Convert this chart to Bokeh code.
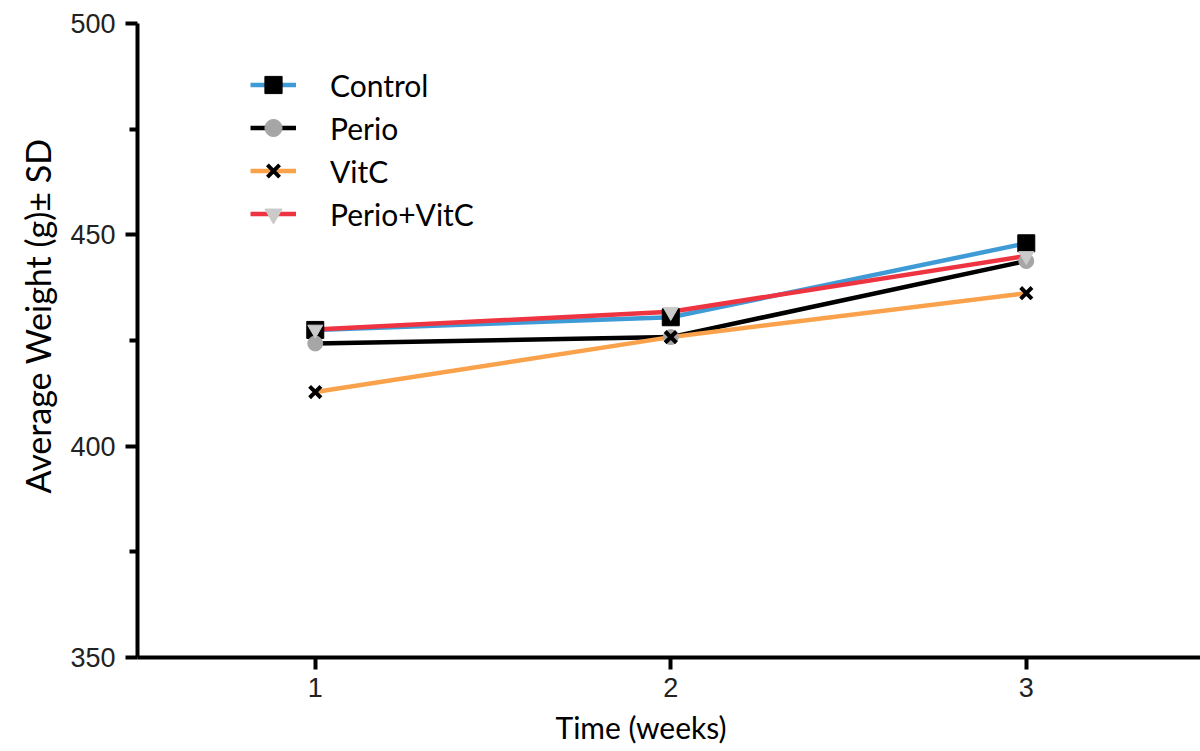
from bokeh.plotting import figure
from bokeh.models import Legend, LegendItem, Title, FixedTicker, Range1d
from bokeh.embed import file_html
from bokeh.resources import INLINE

weeks = [1, 2, 3]
control = [427.5, 430.5, 448.0]
perio = [424.3, 425.8, 443.8]
vitc = [412.8, 425.8, 436.2]
perio_vitc = [427.6, 431.8, 445.0]

p = figure(width=1200, height=751, output_backend="svg", toolbar_location=None,
           x_range=Range1d(0.5, 3.49), y_range=Range1d(350, 500),
           min_border_left=137, min_border_right=0, min_border_top=23, min_border_bottom=94)
p.outline_line_color = None
p.grid.visible = False
p.background_fill_color = "white"

for ax in (p.xaxis[0], p.yaxis[0]):
    ax.axis_line_width = 4
    ax.axis_line_color = "black"
    ax.major_tick_line_width = 4
    ax.major_tick_line_color = "black"
    ax.major_tick_out = 12
    ax.major_tick_in = 0
    ax.major_label_text_font = "Liberation Sans"
    ax.major_label_text_font_size = "27px"
    ax.major_label_text_color = "#222222"

p.xaxis.ticker = FixedTicker(ticks=weeks)
p.xaxis.minor_tick_line_color = None
p.xaxis.major_label_standoff = 8
p.yaxis.ticker = FixedTicker(ticks=[350, 400, 450, 500], minor_ticks=[375, 425, 475])
p.yaxis.minor_tick_out = 8
p.yaxis.minor_tick_in = 0
p.yaxis.minor_tick_line_width = 4
p.yaxis.minor_tick_line_color = "black"
p.yaxis.major_label_standoff = 10

lw = 4.5
l_c = p.line(weeks, control, line_color="#3E9BD5", line_width=lw)
l_p = p.line(weeks, perio, line_color="black", line_width=lw)
l_v = p.line(weeks, vitc, line_color="#F9A24B", line_width=lw)
l_pv = p.line(weeks, perio_vitc, line_color="#EE3341", line_width=lw)

m_c = p.scatter(weeks, control, marker="square", size=17, fill_color="black", line_color="black")
m_p = p.scatter(weeks, perio, marker="circle", size=15, fill_color="#A6A6A6", line_color="#A6A6A6")
m_v = p.scatter(weeks, vitc, marker="x", size=16, line_color="black", line_width=4)
m_pv = p.scatter(weeks, perio_vitc, marker="inverted_triangle", size=15, fill_color="#CACACA", line_color="#CACACA")

legend = Legend(items=[
    LegendItem(label="Control", renderers=[l_c, m_c]),
    LegendItem(label="Perio", renderers=[l_p, m_p]),
    LegendItem(label="VitC", renderers=[l_v, m_v]),
    LegendItem(label="Perio+VitC", renderers=[l_pv, m_pv]),
], location=(113, 422))
legend.border_line_color = None
legend.background_fill_alpha = 0
legend.padding = 0
legend.margin = 0
legend.spacing = 0
legend.glyph_width = 46
legend.glyph_height = 43
legend.label_height = 43
legend.label_standoff = 34
legend.label_text_font = "Lato"
legend.label_text_font_size = "30px"
legend.label_text_color = "black"
p.add_layout(legend, "center")

xt = Title(text="Time (weeks)", align="left", offset=418, standoff=14,
           text_font="Lato", text_font_size="30px", text_font_style="normal", text_color="black")
yt = Title(text="Average Weight (g)± SD", align="left", offset=164, standoff=19,
           text_font="Lato", text_font_size="34px", text_font_style="normal", text_color="black")
p.add_layout(xt, "below")
p.add_layout(yt, "left")

open("out.html", "w").write(file_html(p, INLINE))
